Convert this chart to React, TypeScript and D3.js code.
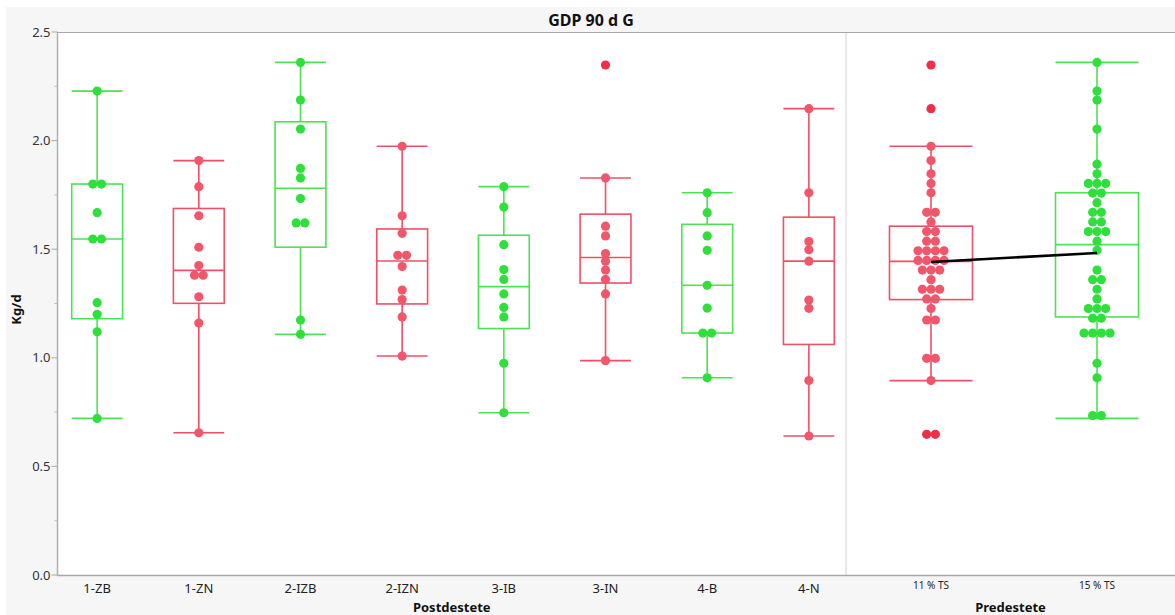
import React, { useEffect } from 'react';
import * as d3 from 'd3';

// ---------- data ----------
const title = 'GDP 90 d G';
const yLabel = 'Kg/d';
const postTitle = 'Postdestete';
const preTitle = 'Predestete';
const postCategories = ['1-ZB', '1-ZN', '2-IZB', '2-IZN', '3-IB', '3-IN', '4-B', '4-N'];
const preCategories = ['11 % TS', '15 % TS'];
const yTicks = [0, 0.5, 1.0, 1.5, 2.0, 2.5];
const yMinorTicks = [0.25, 0.75, 1.25, 1.75, 2.25];

const g1ZB = [2.228, 1.8, 1.8, 1.668, 1.547, 1.547, 1.254, 1.2, 1.12, 0.721];
const g1ZN = [1.908, 1.788, 1.654, 1.509, 1.425, 1.38, 1.38, 1.281, 1.16, 0.655];
const g2IZB = [2.36, 2.187, 2.053, 1.872, 1.828, 1.733, 1.621, 1.621, 1.174, 1.108];
const g2IZN = [1.974, 1.654, 1.573, 1.472, 1.472, 1.42, 1.312, 1.268, 1.188, 1.008];
const g3IB = [1.788, 1.694, 1.521, 1.406, 1.361, 1.294, 1.232, 1.188, 0.975, 0.747];
const g3IN = [2.348, 1.828, 1.606, 1.561, 1.48, 1.444, 1.404, 1.361, 1.294, 0.987];
const g4B = [1.76, 1.668, 1.561, 1.495, 1.334, 1.229, 1.114, 1.114, 0.908];
const g4N = [2.147, 1.76, 1.535, 1.498, 1.445, 1.266, 1.228, 0.895, 0.64];

const postValues = [g1ZB, g1ZN, g2IZB, g2IZN, g3IB, g3IN, g4B, g4N];
// Predestete groups are the pooled postdestete groups
const pre11 = [...g1ZN, ...g2IZN, ...g3IN, ...g4N];
const pre15 = [...g1ZB, ...g2IZB, ...g3IB, ...g4B];
const preValues = [pre11, pre15];

// ---------- style ----------
const GREEN_FILL = '#2fe03c';
const GREEN_LINE = '#4ce353';
const RED_FILL = '#f2566b';
const RED_LINE = '#ef4f67';
const RED_OUT = '#ee2f48';
const FONT = "'Noto Sans', 'Open Sans', sans-serif";

// JMP-style quantile, position p*(n+1)
function quant(sorted: number[], p: number) {
  const n = sorted.length;
  const pos = p * (n + 1);
  const i = Math.floor(pos);
  const f = pos - i;
  if (i < 1) return sorted[0];
  if (i >= n) return sorted[n - 1];
  return sorted[i - 1] + f * (sorted[i] - sorted[i - 1]);
}

type Row = { yv: number; vals: number[] };

function greedyRows(vals: number[]): Row[] {
  const s = [...vals].sort((a, b) => b - a);
  const rows: Row[] = [];
  for (const v of s) {
    const last = rows[rows.length - 1];
    if (last && last.vals[0] - v <= 0.03) last.vals.push(v);
    else rows.push({ yv: v, vals: [v] });
  }
  rows.forEach((r) => (r.yv = d3.mean(r.vals) as number));
  return rows;
}

const BIN0 = 1.2785;
const BINW = 0.0443;
function denseRows(vals: number[]): Row[] {
  const bins = new Map<number, number[]>();
  vals.forEach((v) => {
    const k = Math.floor((v - BIN0) / BINW);
    if (!bins.has(k)) bins.set(k, []);
    bins.get(k)!.push(v);
  });
  const keys = [...bins.keys()].sort((a, b) => a - b);
  const runs: number[][] = [];
  keys.forEach((k) => {
    const last = runs[runs.length - 1];
    if (last && last[last.length - 1] === k - 1) last.push(k);
    else runs.push([k]);
  });
  const rows: Row[] = [];
  const loose: number[] = [];
  runs.forEach((run) => {
    if (run.length >= 3) {
      run.forEach((k, idx) => {
        const vs = bins.get(k)!;
        const yv = idx === 0 ? (d3.mean(vs) as number) : BIN0 + k * BINW + 0.037;
        rows.push({ yv, vals: vs });
      });
    } else run.forEach((k) => loose.push(...bins.get(k)!));
  });
  return rows.concat(greedyRows(loose));
}

type Group = {
  name: string;
  values: number[];
  cx: number;
  w: number;
  green: boolean;
  dense: boolean;
};

function BoxGroup({ g, y }: { g: Group; y: d3.ScaleLinear<number, number> }) {
  const s = [...g.values].sort((a, b) => a - b);
  const q1 = quant(s, 0.25);
  const med = quant(s, 0.5);
  const q3 = quant(s, 0.75);
  const iqr = q3 - q1;
  const lo = q1 - 1.5 * iqr;
  const hi = q3 + 1.5 * iqr;
  const wMin = d3.min(s.filter((v) => v >= lo)) as number;
  const wMax = d3.max(s.filter((v) => v <= hi)) as number;
  const line = g.green ? GREEN_LINE : RED_LINE;
  const fill = g.green ? GREEN_FILL : RED_FILL;
  const rows = g.dense ? denseRows(g.values) : greedyRows(g.values);
  const half = g.w / 2;
  const sp = 8.67;
  return (
    <g>
      <line x1={g.cx} x2={g.cx} y1={y(q3)} y2={y(wMax)} stroke={line} strokeWidth={1.6} />
      <line x1={g.cx} x2={g.cx} y1={y(q1)} y2={y(wMin)} stroke={line} strokeWidth={1.6} />
      <line x1={g.cx - half} x2={g.cx + half} y1={y(wMax)} y2={y(wMax)} stroke={line} strokeWidth={1.6} />
      <line x1={g.cx - half} x2={g.cx + half} y1={y(wMin)} y2={y(wMin)} stroke={line} strokeWidth={1.6} />
      <rect x={g.cx - half} y={y(q3)} width={g.w} height={y(q1) - y(q3)} fill="none" stroke={line} strokeWidth={1.6} />
      <line x1={g.cx - half} x2={g.cx + half} y1={y(med)} y2={y(med)} stroke={line} strokeWidth={1.6} />
      {rows.map((r, ri) =>
        r.vals.map((v, i) => {
          const out = v < lo || v > hi;
          return (
            <circle
              key={ri + '-' + i}
              cx={g.cx + (i - (r.vals.length - 1) / 2) * sp}
              cy={y(r.yv)}
              r={4.6}
              fill={out ? (g.green ? GREEN_FILL : RED_OUT) : fill}
            />
          );
        })
      )}
    </g>
  );
}

export default function App() {
  useEffect(() => {
    document.body.style.margin = '0';
  }, []);
  const W = 1175;
  const H = 615;
  const plotTop = 32;
  const plotBottom = 575;
  const axisX = 57.5;
  const divX = 846;

  const y = d3.scaleLinear().domain([0, 2.5]).range([plotBottom, plotTop]);
  const xPost = d3.scalePoint<string>().domain(postCategories).range([59, 847]).padding(0.375);
  const xPre = d3.scalePoint<string>().domain(preCategories).range([848, 1180]).padding(0.5);

  const groups: Group[] = [
    ...postCategories.map((c, i) => ({
      name: c,
      values: postValues[i],
      cx: xPost(c) as number,
      w: xPost.step() * 0.5,
      green: i % 2 === 0,
      dense: false,
    })),
    ...preCategories.map((c, i) => ({
      name: c,
      values: preValues[i],
      cx: xPre(c) as number,
      w: xPre.step() * 0.5,
      green: i === 1,
      dense: true,
    })),
  ];

  const mean11 = d3.mean(pre11) as number;
  const mean15 = d3.mean(pre15) as number;

  return (
    <svg
      width={W}
      height={H}
      style={{ position: 'absolute', left: 0, top: 0, display: 'block' }}
      fontFamily={FONT}
    >
      <rect x={0} y={0} width={W} height={H} fill="#ffffff" />
      <rect x={6} y={7} width={W} height={H} fill="#f6f6f6" />
      <rect x={axisX} y={plotTop} width={W - axisX} height={plotBottom - plotTop} fill="#ffffff" />
      <text x={591} y={25.5} textAnchor="middle" fontSize={16} fontWeight="bold" fill="#111">
        {title}
      </text>
      {/* divider */}
      <line x1={divX} x2={divX} y1={plotTop} y2={plotBottom} stroke="#e8e8e8" strokeWidth={2} />
      {/* frame */}
      <line x1={axisX} x2={W} y1={plotTop + 0.5} y2={plotTop + 0.5} stroke="#a8a8a8" strokeWidth={1} />
      <line x1={axisX} x2={W} y1={plotBottom + 0.5} y2={plotBottom + 0.5} stroke="#a8a8a8" strokeWidth={1.5} />
      <line x1={axisX} x2={axisX} y1={plotTop} y2={plotBottom + 1} stroke="#b0b0b0" strokeWidth={1.5} />
      {/* y ticks */}
      {yTicks.map((t) => (
        <g key={t}>
          <line x1={axisX - 6} x2={axisX} y1={y(t)} y2={y(t)} stroke="#a8a8a8" />
          <text x={axisX - 7} y={y(t) + 4.5} textAnchor="end" fontSize={13} fill="#333">
            {d3.format('.1f')(t)}
          </text>
        </g>
      ))}
      {yMinorTicks.map((t) => (
        <line key={t} x1={axisX - 3} x2={axisX} y1={y(t)} y2={y(t)} stroke="#b8b8b8" />
      ))}
      <text
        transform={`translate(21,${(plotTop + plotBottom) / 2 + 6}) rotate(-90)`}
        textAnchor="middle"
        fontSize={13}
        fontWeight="bold"
        fill="#111"
      >
        {yLabel}
      </text>
      {/* x labels */}
      {postCategories.map((c) => (
        <text key={c} x={xPost(c)} y={593} textAnchor="middle" fontSize={13} fill="#222">
          {c}
        </text>
      ))}
      {preCategories.map((c) => (
        <text key={c} x={xPre(c)} y={589} textAnchor="middle" fontSize={10} fill="#222">
          {c}
        </text>
      ))}
      <text x={(axisX + divX) / 2} y={612} textAnchor="middle" fontSize={13} fontWeight="bold" fill="#111">
        {postTitle}
      </text>
      <text x={(divX + W) / 2} y={612} textAnchor="middle" fontSize={13} fontWeight="bold" fill="#111">
        {preTitle}
      </text>
      {groups.map((g) => (
        <BoxGroup key={g.name} g={g} y={y} />
      ))}
      <line
        x1={xPre(preCategories[0])}
        x2={xPre(preCategories[1])}
        y1={y(mean11)}
        y2={y(mean15)}
        stroke="#000"
        strokeWidth={2.6}
      />
    </svg>
  );
}
